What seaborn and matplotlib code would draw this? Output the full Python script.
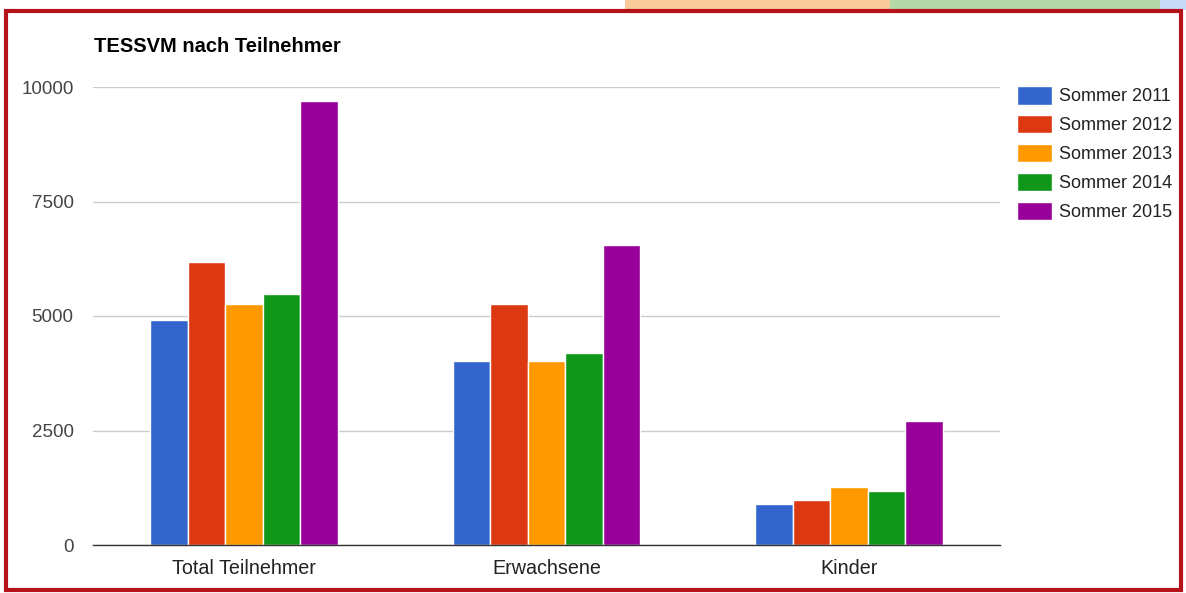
import matplotlib
matplotlib.use("Agg")
import matplotlib.pyplot as plt
from matplotlib.patches import Rectangle
import seaborn as sns
import pandas as pd

categories = ["Total Teilnehmer", "Erwachsene", "Kinder"]
series = ["Sommer 2011", "Sommer 2012", "Sommer 2013", "Sommer 2014", "Sommer 2015"]
values = {
    "Sommer 2011": [4910, 4020, 900],
    "Sommer 2012": [6175, 5265, 990],
    "Sommer 2013": [5265, 4020, 1260],
    "Sommer 2014": [5490, 4190, 1185],
    "Sommer 2015": [9690, 6540, 2700],
}
colors = ["#3366cc", "#dc3912", "#ff9900", "#109618", "#990099"]
yticks = [0, 2500, 5000, 7500, 10000]
title = "TESSVM nach Teilnehmer"

rows = []
for s in series:
    for c, v in zip(categories, values[s]):
        rows.append({"Kategorie": c, "Serie": s, "Wert": v})
df = pd.DataFrame(rows)

sns.set_theme(style="white")
plt.rcParams["font.family"] = ["Liberation Sans", "DejaVu Sans"]

W, H = 1186, 593
fig = plt.figure(figsize=(W / 100, H / 100), dpi=100)
ax = fig.add_axes([93 / W, (H - 545) / H, (1000 - 93) / W, (545 - 87) / H])

sns.barplot(data=df, x="Kategorie", y="Wert", hue="Serie", order=categories,
            hue_order=series, palette=colors, width=0.62, saturation=1,
            edgecolor="white", linewidth=1, errorbar=None, ax=ax, zorder=3)

ax.set_ylim(0, 10000)
ax.set_yticks(yticks)
ax.set_yticklabels([str(t) for t in yticks], fontsize=13.5, color="#444444")
ax.tick_params(axis="y", length=0, pad=14)
ax.tick_params(axis="x", length=0, pad=10, labelsize=14.2, labelcolor="#222222")
ax.grid(axis="y", color="#cccccc", linewidth=1, zorder=0)
ax.set_xlabel("")
ax.set_ylabel("")
for sp in ["left", "right", "top"]:
    ax.spines[sp].set_visible(False)
ax.spines["bottom"].set_color("#333333")
ax.spines["bottom"].set_linewidth(1)
ax.spines["bottom"].set_zorder(4)

ax.legend_.remove()
handles = [Rectangle((0, 0), 1, 1, facecolor=c, edgecolor="white") for c in colors]
fig.legend(handles, series, loc="upper left",
           bbox_to_anchor=(1017 / W, (H - 86) / H), frameon=False,
           borderpad=0, borderaxespad=0,
           fontsize=13, handlelength=1.95, handleheight=1.2,
           labelspacing=0.53, handletextpad=0.4, labelcolor="#222222")

fig.text(94 / W, (H - 46) / H, title, fontsize=14.5, fontweight="bold",
         ha="left", va="center", color="#000000")

# spreadsheet strip above the framed chart
fig.patches.append(Rectangle((625 / W, (H - 10) / H), 265 / W, 10 / H,
                             transform=fig.transFigure, facecolor="#f9cb9c", edgecolor="none"))
fig.patches.append(Rectangle((890 / W, (H - 10) / H), 270 / W, 10 / H,
                             transform=fig.transFigure, facecolor="#b6d7a8", edgecolor="none"))
fig.patches.append(Rectangle((1160 / W, (H - 10) / H), 26 / W, 10 / H,
                             transform=fig.transFigure, facecolor="#c9daf8", edgecolor="none"))
# red frame
fig.patches.append(Rectangle((6 / W, 3 / H), 1175 / W, (H - 14) / H,
                             transform=fig.transFigure, facecolor="none",
                             edgecolor="#b5121b", linewidth=3))

fig.savefig("out.png", dpi=100)
